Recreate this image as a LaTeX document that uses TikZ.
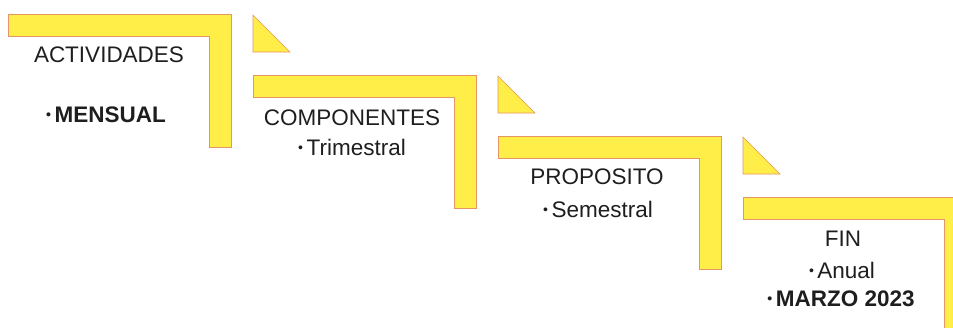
\documentclass[tikz,border=0pt]{standalone}
\usepackage{fontspec}
\setmainfont{Liberation Sans}
\usepackage{tikz}
\usetikzlibrary{positioning,calc}
\definecolor{stepyellow}{RGB}{255,237,72}
\definecolor{stepedge}{RGB}{230,150,100}
\definecolor{textblack}{RGB}{30,30,30}
\newcommand{\bul}{\raisebox{2pt}{\fontsize{10}{10}\selectfont•}\hspace{2.5pt}}

\begin{document}
\begin{tikzpicture}[
    x=0.25mm, y=-0.25mm,
    stair/.style={fill=stepyellow, draw=stepedge, line width=0.4pt},
    label/.style={anchor=base, inner sep=0pt, text=textblack, font=\fontsize{16}{19}\selectfont},
    strong/.style={label, font=\fontsize{16}{19}\selectfont\bfseries}
]
    \clip (0,0) rectangle (953,327);

    % Step 1: Actividades
    \draw[stair] (8,14) -- (231,14) -- (231,147) -- (209,147) -- (209,36) -- (8,36) -- cycle;
    \draw[stair] (253,15) -- (253,52) -- (290,52) -- cycle;

    % Step 2: Componentes
    \draw[stair] (253,75) -- (476,75) -- (476,208) -- (454,208) -- (454,97) -- (253,97) -- cycle;
    \draw[stair] (498,76) -- (498,113) -- (535,113) -- cycle;

    % Step 3: Proposito
    \draw[stair] (498,136) -- (721,136) -- (721,269) -- (699,269) -- (699,158) -- (498,158) -- cycle;
    \draw[stair] (743,137) -- (743,174) -- (780,174) -- cycle;

    % Step 4: Fin
    \draw[stair] (743,197) -- (966,197) -- (966,330) -- (944,330) -- (944,219) -- (743,219) -- cycle;

    % Texts
    \node[label] (act) at (109,62) {ACTIVIDADES};
    \node[strong] (mens) at (106,122) {\bul MENSUAL};
    \node[label] (comp) at (352,125) {COMPONENTES};
    \node[label] (trim) at (352,155) {\bul Trimestral};
    \node[label] (prop) at (597,184) {PROPOSITO};
    \node[label] (sem) at (598,217) {\bul Semestral};
    \node[label] (fin) at (843,246) {FIN};
    \node[label] (anual) at (842,278) {\bul Anual};
    \node[strong] (marzo) at (841,306) {\bul MARZO 2023};
\end{tikzpicture}
\end{document}
